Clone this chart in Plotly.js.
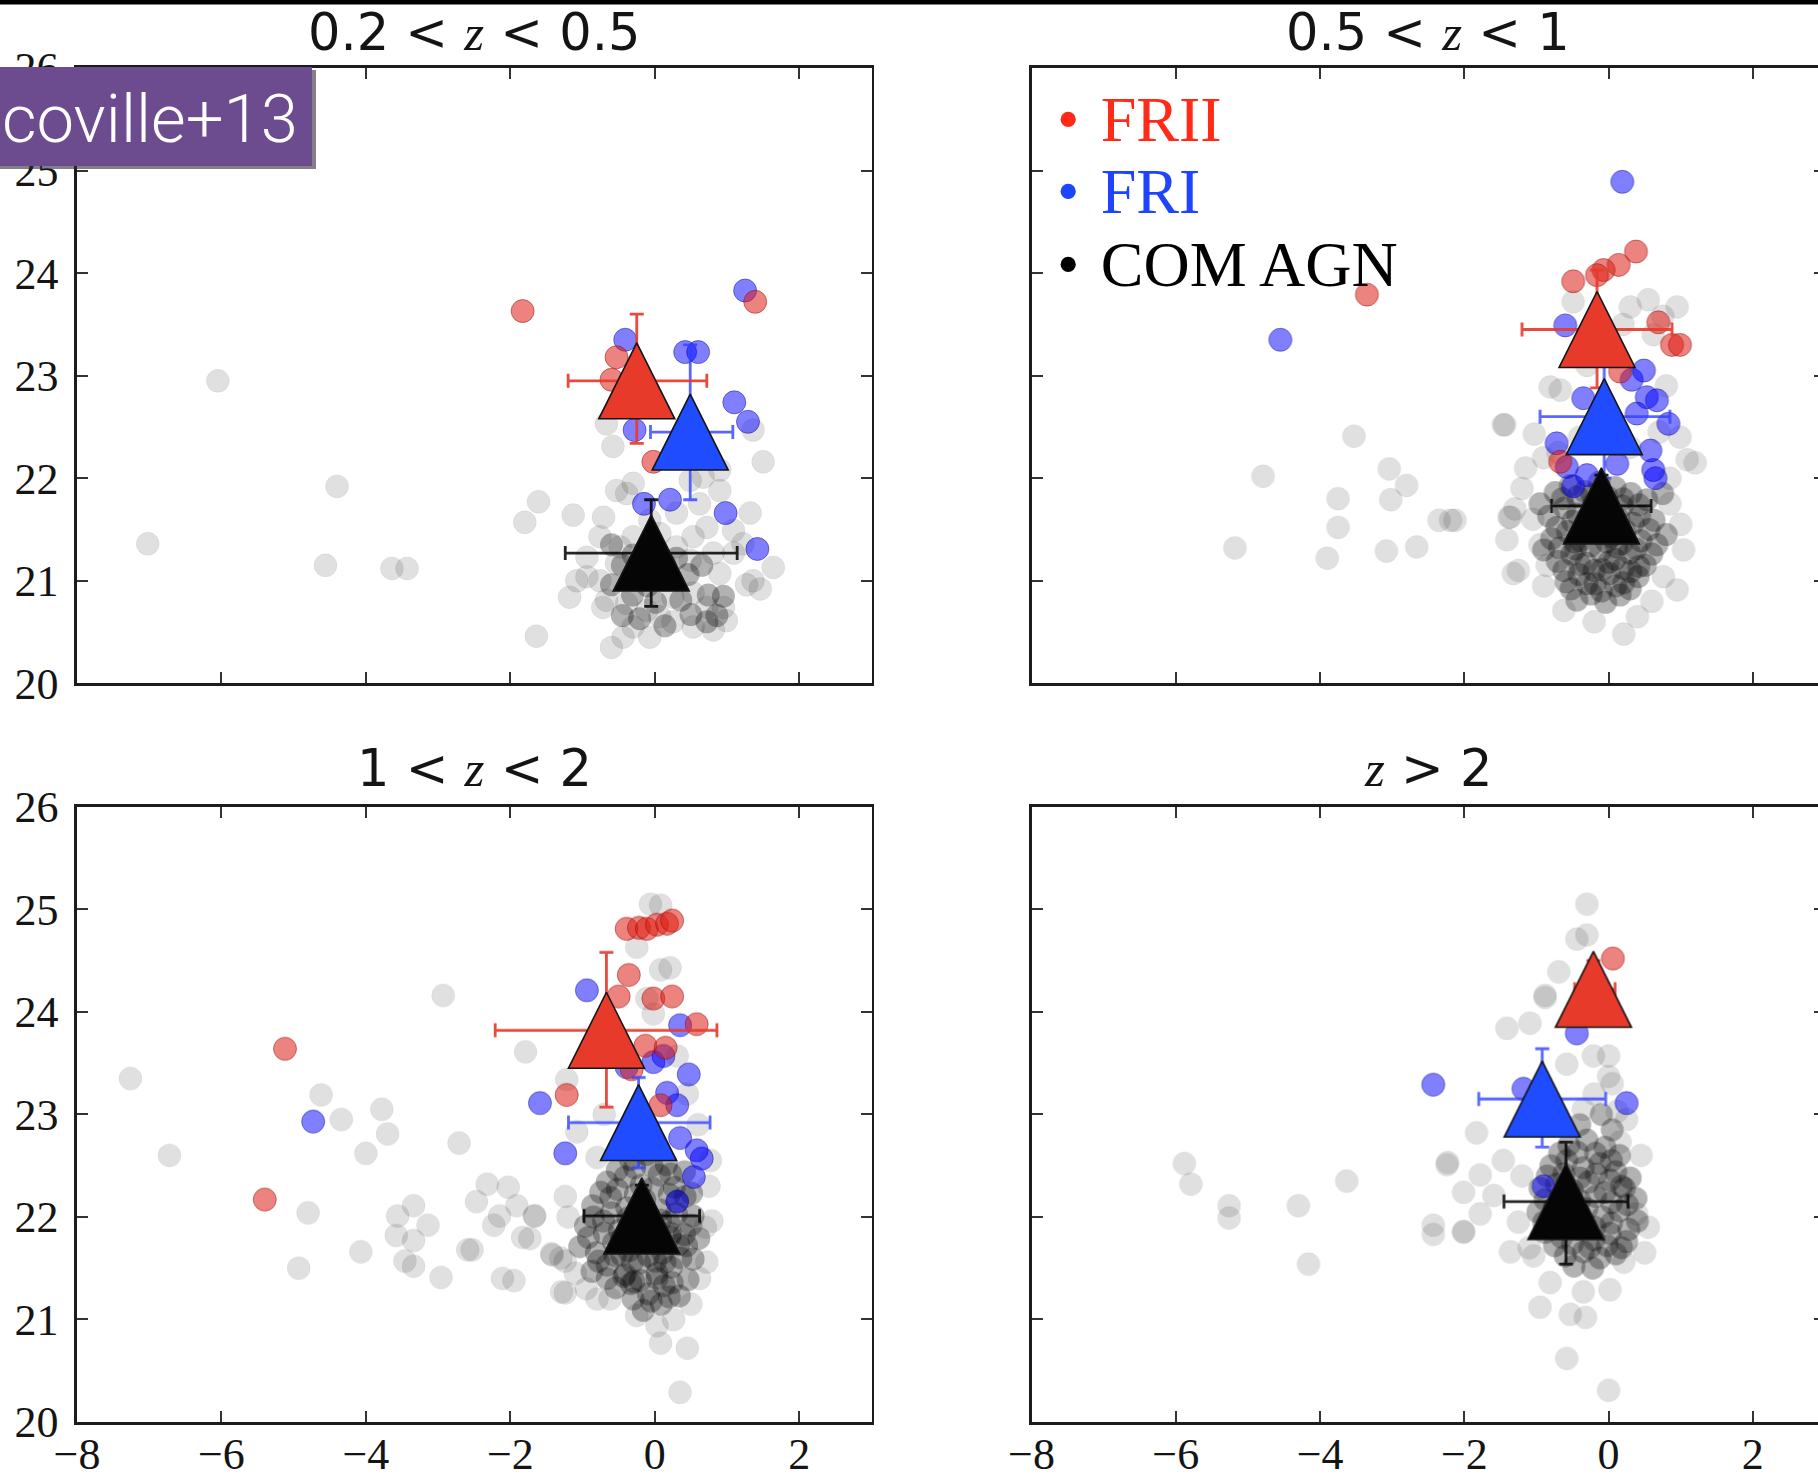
<!DOCTYPE html>
<html><head><meta charset="utf-8">
<script src="https://cdn.plot.ly/plotly-3.0.1.min.js"></script>
<style>html,body{margin:0;padding:0;overflow:hidden;background:#fff;}#chart{width:1830px;height:1475px;}
#chart .scatterlayer{filter:blur(0.7px);}</style>
</head><body><div id="chart"></div>
<script>
// ---------------- data (x = first value, y = second) ----------------
const X_TICKS = [-8,-6,-4,-2,0,2];
const X_TICKTEXT = ['\u22128','\u22126','\u22124','\u22122','0','2'];
const Y_TICKS = [20,21,22,23,24,25,26];
const PANEL_TITLES = ['0.2 &lt; <span style="font-family:Liberation Serif"><i>z</i></span> &lt; 0.5',
                      '0.5 &lt; <span style="font-family:Liberation Serif"><i>z</i></span> &lt; 1',
                      '1 &lt; <span style="font-family:Liberation Serif"><i>z</i></span> &lt; 2',
                      '<span style="font-family:Liberation Serif"><i>z</i></span> &gt; 2'];
const LEGEND_NAMES = ['FRII','FRI','COM AGN'];

// Top-left 0.2<z<0.5
const TL_COM = [[-6.05,22.95],[-7.02,21.36],[-4.40,21.92],[-4.56,21.15],[-3.64,21.12],[-3.43,21.12],[-1.64,20.46],[-1.61,21.77],[-1.80,21.57],
[-1.13,21.64],[-0.71,21.62],[-0.39,21.85],[-1.18,20.84],[-0.60,20.35],[1.50,22.16],[1.36,22.47],[1.64,21.13],[1.46,20.92],[1.27,20.96],[-0.58,22.31],[-0.67,22.53],[0.90,21.88],[1.09,21.49],[0.72,21.52],[-0.94,21.04],[-0.76,21.43],[-0.48,21.33],[-0.30,21.43],[0.07,21.46],[0.30,21.33],[0.53,21.43],[0.49,21.20],[0.81,21.27],[0.90,21.07],[-0.76,21.00],[-0.67,20.81],[-0.39,20.78],[-0.11,20.71],[0.07,20.65],[0.25,20.84],[0.53,20.88],[0.72,20.74],[0.95,20.74],[0.99,20.61],[0.81,20.52],[-0.30,20.55],[-0.07,20.45],[-0.44,20.45],[0.53,20.55],[0.25,20.60],[-0.11,21.20],[0.16,21.07],[-0.53,21.17],[-0.94,21.23],[-0.07,21.59],[0.30,21.66],[0.62,21.75],[0.67,22.01],[0.90,22.08],[0.49,21.98],[-0.30,21.95],[-0.53,21.88],[1.32,21.66],[1.22,21.36],[1.36,21.00],[1.09,21.27],[-0.72,20.74],[-1.08,21.00]];
const TL_CORE = [[-0.45,21.15],[-0.16,21.04],[0.14,21.16],[0.46,21.06],[-0.31,20.86],[0.01,20.79],[0.36,20.81],[0.74,20.86],[0.86,20.66],[-0.21,20.63],[0.14,20.56],[-0.60,20.96],
[-0.60,21.35],[-0.30,21.25],[0.02,21.30],[0.30,21.22],[0.65,21.15],[-0.45,20.66],[0.50,20.67],[0.72,20.60],[-0.10,20.95],[0.95,20.85]];
const TL_RED = [[-1.83,23.63],[1.39,23.72],[-0.53,23.18],[-0.60,22.96],[-0.02,22.16]];
const TL_BLUE = [[1.25,23.83],[-0.41,23.35],[0.42,23.23],[0.60,23.23],[1.10,22.74],[1.29,22.55],[-0.28,22.47],[-0.15,21.75],[0.21,21.79],[0.98,21.66],[1.42,21.31]];

// Top-right 0.5<z<1
const TR_COM = [[-5.18,21.32],[-4.79,22.02],[-3.90,21.22],[-3.75,21.52],[-3.75,21.80],[-3.53,22.41],[-3.08,21.29],[-3.02,21.79],[-3.04,22.09],[-2.80,21.93],[-2.66,21.33],[-2.35,21.59],[-2.19,21.59],[-1.44,22.52],[-1.38,21.62],[-1.03,22.43],
[-0.49,23.72],[0.55,23.74],[0.30,23.67],[0.95,23.67],[0.75,23.58],[-0.81,22.89],[-0.67,22.86],[-1.46,22.52],[0.99,22.40],[1.09,22.18],[-2.13,21.59],[-1.36,21.62],[-1.41,21.40],[-1.32,21.07],[1.04,21.30],[0.95,20.91],[0.21,20.48],[-0.62,20.71],[0.76,21.04],[-1.30,21.70],[0.20,23.50],[0.62,23.40],[-0.30,23.10],[0.80,22.90],[1.20,22.15],
[-0.70,22.25],[0.30,22.30],[0.70,22.45],[-0.40,22.40],[0.10,22.35],[-0.90,22.20],[0.85,22.00],[-1.20,21.90],[-1.25,21.10],[1.00,21.55],[-1.05,21.60],[-0.95,21.35],[0.85,21.75],[0.60,20.80],[-0.90,20.95],[0.40,20.65],[-0.20,20.60],[-1.15,22.10],[-0.85,21.15]];
const TR_CORE = [[-0.74,21.86],[-0.53,21.93],[-0.33,21.87],[-0.13,21.96],[0.09,21.91],[0.31,21.85],[0.53,21.79],
[-0.83,21.63],[-0.61,21.71],[-0.43,21.65],[-0.21,21.75],[0.01,21.67],[0.19,21.73],[0.43,21.63],[0.63,21.59],
[-0.79,21.41],[-0.57,21.48],[-0.39,21.39],[-0.17,21.51],[0.03,21.43],[0.23,21.49],[0.45,21.39],[0.67,21.35],
[-0.71,21.19],[-0.51,21.26],[-0.31,21.17],[-0.11,21.29],[0.09,21.21],[0.29,21.27],[0.51,21.15],
[-0.59,20.99],[-0.41,21.06],[-0.19,20.97],[0.01,21.07],[0.21,20.98],[0.41,21.04],
[-0.44,20.81],[-0.24,20.87],[-0.04,20.79],[0.16,20.86],
[-0.29,21.57],[0.11,21.33],[-0.46,21.31],[0.31,21.09],[-0.09,21.11],
[-0.64,21.80],[-0.43,21.82],[-0.23,21.84],[-0.02,21.82],[0.20,21.80],[0.42,21.74],
[-0.72,21.52],[-0.50,21.58],[-0.28,21.62],[-0.06,21.56],[0.14,21.60],[0.34,21.56],[0.56,21.50],
[-0.68,21.32],[-0.47,21.38],[-0.25,21.34],[-0.03,21.38],[0.18,21.36],[0.38,21.31],[0.60,21.26],
[-0.62,21.10],[-0.40,21.16],[-0.20,21.10],[0.00,21.18],[0.20,21.12],[0.42,21.14],
[-0.52,20.92],[-0.30,20.97],[-0.10,20.90],[0.10,20.95],[0.30,20.92],
[-0.90,21.30],[0.80,21.45],[-0.95,21.75],[0.75,21.85]];
const TR_RED = [[-3.35,23.79],[0.38,24.21],[0.14,24.08],[-0.07,24.03],[-0.16,23.98],[-0.49,23.92],[0.69,23.52],[0.88,23.30],[0.99,23.30],[0.16,23.04],[-0.67,22.16]];
const TR_BLUE = [[-4.55,23.35],[0.19,24.89],[-0.60,23.49],[0.49,23.05],[0.32,22.96],[0.53,22.79],[0.67,22.76],[-0.35,22.78],[0.39,22.63],[0.83,22.53],[-0.72,22.34],[0.58,22.27],[-0.58,22.11],[-0.30,22.03],[0.12,22.14],[0.62,22.08],[0.65,22.00],[-0.49,21.92]];

// Bottom-left 1<z<2
const BL_COM = [[-7.26,23.35],[-6.72,22.60],[-4.62,23.19],[-4.34,22.95],[-3.78,23.05],[-3.70,22.81],[-4.00,22.62],[-4.80,22.04],[-4.93,21.50],[-4.07,21.66],[-3.56,22.01],[-3.34,22.11],[-3.58,21.82],[-3.34,21.77],[-3.14,21.92],[-3.46,21.57],[-3.34,21.52],[-2.96,21.41],[-2.93,24.16],[-2.71,22.72],[-2.59,21.68],[-2.47,22.15],[-2.32,22.32],[-2.15,22.01],[-2.03,22.29],[-1.91,22.11],[-2.23,21.92],[-2.11,21.40],[-1.95,21.38],[-1.79,23.61],[-1.67,22.01],[-1.83,21.80],[-2.53,21.68],[-1.43,21.64],[-1.24,22.20],[-1.24,21.26],[-1.24,21.57],
[-0.06,25.05],[0.08,25.04],[-0.25,24.63],[0.08,24.41],[0.21,24.43],[-0.11,24.13],[-0.02,23.98],[-1.22,23.34],[0.31,23.57],[-1.08,22.83],[-0.80,22.58],[-1.66,22.01],[-1.73,21.79],[-1.42,21.63],[-1.29,21.27],[-0.62,21.20],[-0.25,21.04],[0.03,20.94],[0.26,21.00],[0.08,20.77],[0.45,20.72],[0.35,20.29],[0.77,22.55],[0.79,21.96],[0.72,21.56],
[-1.30,21.60],[-1.10,21.45],[-0.95,21.30],[0.70,21.90],[0.75,22.30],[0.62,21.40],[-0.80,21.20],[0.50,21.15],[-1.20,22.00],[0.45,23.20],[-0.70,23.00],[0.60,22.90]];
const BL_CORE = [[-0.34,22.56],[-0.11,22.61],[0.16,22.51],[0.41,22.44],
[-0.66,22.34],[-0.41,22.39],[-0.19,22.31],[0.06,22.41],[0.27,22.29],[0.51,22.23],
[-0.86,22.11],[-0.61,22.19],[-0.39,22.09],[-0.14,22.17],[0.07,22.07],[0.31,22.15],[0.53,22.01],
[-0.96,21.91],[-0.71,21.96],[-0.49,21.87],[-0.28,21.97],[-0.04,21.85],[0.19,21.95],[0.41,21.83],[0.61,21.79],
[-1.04,21.71],[-0.81,21.65],[-0.57,21.75],[-0.36,21.67],[-0.11,21.77],[0.11,21.65],[0.33,21.73],[0.53,21.59],
[-0.87,21.47],[-0.66,21.53],[-0.41,21.44],[-0.21,21.55],[0.03,21.45],[0.23,21.51],[0.46,21.39],
[-0.54,21.31],[-0.33,21.35],[-0.09,21.25],[0.13,21.33],[0.34,21.23],
[-0.16,21.09],[0.09,21.15],
[-0.24,22.01],[0.01,21.57],[-0.46,21.63],[0.21,21.81],[-0.29,21.37],
[-0.52,22.46],[-0.28,22.48],[-0.04,22.50],[0.22,22.42],
[-0.75,22.24],[-0.52,22.27],[-0.27,22.22],[-0.03,22.28],[0.20,22.22],[0.42,22.20],
[-0.85,22.00],[-0.60,22.04],[-0.37,21.99],[-0.15,22.05],[0.08,21.97],[0.30,22.03],[0.50,21.92],
[-0.92,21.80],[-0.70,21.84],[-0.46,21.78],[-0.23,21.86],[0.00,21.76],[0.22,21.84],[0.44,21.72],
[-0.78,21.57],[-0.55,21.62],[-0.31,21.56],[-0.09,21.62],[0.14,21.56],[0.36,21.60],
[-0.66,21.40],[-0.43,21.42],[-0.20,21.38],[0.03,21.40],[0.24,21.36],
[-0.30,21.20],[-0.05,21.18],[0.20,21.22]];
const BL_RED = [[-5.12,23.64],[-5.40,22.17],[-0.39,24.81],[-0.22,24.82],[-0.11,24.81],[0.03,24.85],[0.17,24.86],[0.24,24.89],[-0.36,24.36],[-0.50,24.15],[-0.02,24.13],[0.24,24.15],[0.58,23.88],[-0.13,23.67],[0.15,23.65],[-1.22,23.19],[0.08,23.09],[-0.32,23.44]];
const BL_BLUE = [[-4.73,22.93],[-0.94,24.21],[0.35,23.87],[-1.59,23.11],[0.47,23.39],[-0.02,23.51],[0.12,23.57],[-0.39,23.46],[0.17,23.21],[0.31,23.09],[-1.24,22.62],[0.35,22.77],[0.58,22.65],[0.65,22.57],[0.54,22.39],[0.31,22.15]];

// Bottom-right z>2
const BR_COM = [[-5.88,22.52],[-5.79,22.32],[-5.26,22.11],[-5.26,21.99],[-4.30,22.11],[-4.16,21.54],[-3.63,22.35],[-2.43,21.92],[-2.43,21.83],[-2.23,22.53],[-2.01,21.85],
[-0.30,25.05],[-0.44,24.71],[-0.30,24.75],[-0.69,24.39],[-0.88,24.14],[-0.88,24.16],[-1.09,23.89],[-1.41,23.84],[-0.58,23.49],[-0.21,23.57],[0.00,23.57],[-1.83,22.82],[-2.24,22.51],[-1.78,22.41],[-1.46,22.55],[-2.01,22.24],[-1.59,22.21],[-1.78,22.03],[-2.01,21.86],[-1.36,21.66],[-1.04,21.62],[-0.81,21.36],[-0.95,21.12],[-0.53,21.05],[-0.32,21.02],[-0.35,21.27],[0.02,21.29],[0.21,21.56],[0.39,22.03],[0.16,22.73],[0.00,23.37],[-0.58,20.62],[0.00,20.31],[0.12,23.03],
[-1.20,22.40],[-1.25,21.95],[-1.10,21.70],[0.45,22.60],[0.55,21.90],[0.50,21.65],[-0.20,23.20],[0.05,23.30],[-0.35,23.05],[0.25,22.95]];
const BR_CORE = [[-0.55,22.70],[-0.30,22.75],[-0.05,22.68],[0.15,22.60],
[-0.80,22.50],[-0.58,22.55],[-0.35,22.48],[-0.12,22.52],[0.10,22.44],[0.30,22.38],
[-0.95,22.28],[-0.72,22.32],[-0.50,22.26],[-0.28,22.34],[-0.05,22.24],[0.18,22.30],[0.38,22.18],
[-0.98,22.05],[-0.75,22.10],[-0.52,22.02],[-0.30,22.08],[-0.08,22.00],[0.15,22.06],[0.40,21.96],
[-0.88,21.85],[-0.65,21.80],[-0.42,21.88],[-0.20,21.78],[0.02,21.84],[0.25,21.76],
[-0.60,21.62],[-0.35,21.66],[-0.12,21.60],[0.10,21.64],
[-0.40,22.90],[-0.10,23.00],[0.05,22.85],
[-0.68,22.62],[-0.43,22.63],[-0.18,22.62],[0.04,22.55],
[-0.85,22.40],[-0.62,22.42],[-0.40,22.38],[-0.17,22.42],[0.02,22.36],[0.22,22.28],
[-0.88,22.17],[-0.64,22.20],[-0.40,22.16],[-0.18,22.20],[0.04,22.14],[0.26,22.12],
[-0.90,21.95],[-0.64,21.94],[-0.41,21.98],[-0.19,21.90],[0.04,21.94],[0.28,21.88],
[-0.75,21.72],[-0.50,21.74],[-0.26,21.70],[-0.02,21.72],[0.18,21.70],
[-0.48,21.52],[-0.22,21.50]];
const BR_RED = [[0.06,24.52]];
const BR_BLUE = [[-2.43,23.29],[0.25,23.11],[-0.44,23.79],[-1.18,23.25],[-0.90,22.30]];

// Mean values with error bars, order: COM AGN, FRI, FRII
const TRI_CLASSES = ['COM AGN','FRI','FRII'];
const TL_TRI_X = [-0.05, 0.49, -0.25],  TL_TRI_Y = [21.27, 22.45, 22.95];
const TL_XERR_P = [1.19, 0.59, 0.97],   TL_XERR_M = [1.19, 0.55, 0.95];
const TL_YERR_P = [0.52, 0.85, 0.65],   TL_YERR_M = [0.52, 0.66, 0.61];
const TR_TRI_X = [-0.10, -0.06, -0.16], TR_TRI_Y = [21.73, 22.60, 23.45];
const TR_XERR_P = [0.69, 0.91, 1.04],   TR_XERR_M = [0.69, 0.89, 1.04];
const TR_YERR_P = [0.30, 0.65, 0.58],   TR_YERR_M = [0.30, 0.60, 0.57];
const BL_TRI_X = [-0.18, -0.225, -0.67], BL_TRI_Y = [22.01, 22.92, 23.82];
const BL_XERR_P = [0.80, 0.99, 1.53],   BL_XERR_M = [0.80, 0.97, 1.54];
const BL_YERR_P = [0.30, 0.44, 0.76],   BL_YERR_M = [0.30, 0.44, 0.75];
const BR_TRI_X = [-0.59, -0.92, -0.21], BR_TRI_Y = [22.15, 23.15, 24.22];
const BR_XERR_P = [0.86, 0.88, 0.30],   BR_XERR_M = [0.86, 0.88, 0.26];
const BR_YERR_P = [0.58, 0.49, 0.28],   BR_YERR_M = [0.61, 0.47, 0.28];

// ---------------- geometry / style ----------------
const W = 1830, H = 1475, ML = 77, MR = 5, MT = 68, MB = 53;
const PW = W - ML - MR, PH = H - MT - MB;
const XD_L = [0, 794.5 / PW], XD_R = [(1031.5 - ML) / PW, 1];
const YD_T = [(H - MB - 683.3) / PH, 1], YD_B = [0, (H - MB - 806.7) / PH];
const TRI_SIZE = 76;
const subH = (YD_B[1] - YD_B[0]) * PH;
const SHIFT = (TRI_SIZE / 2) / (subH / 6);

const TRI_FILL = ['#050505', '#1f4cff', '#e83a2b'];
const ERR_COL = ['rgba(0,0,0,0.85)', 'rgba(45,65,255,0.8)', 'rgba(232,58,43,0.92)'];

const panels = [
  {xa:'x',  ya:'y',  yt:'y5', com:TL_COM, core:TL_CORE, red:TL_RED, blue:TL_BLUE, tx:TL_TRI_X, ty:TL_TRI_Y, xp:TL_XERR_P, xm:TL_XERR_M, yp:TL_YERR_P, ym:TL_YERR_M},
  {xa:'x2', ya:'y2', yt:'y6', com:TR_COM, core:TR_CORE, red:TR_RED, blue:TR_BLUE, tx:TR_TRI_X, ty:TR_TRI_Y, xp:TR_XERR_P, xm:TR_XERR_M, yp:TR_YERR_P, ym:TR_YERR_M},
  {xa:'x3', ya:'y3', yt:'y7', com:BL_COM, core:BL_CORE, red:BL_RED, blue:BL_BLUE, tx:BL_TRI_X, ty:BL_TRI_Y, xp:BL_XERR_P, xm:BL_XERR_M, yp:BL_YERR_P, ym:BL_YERR_M},
  {xa:'x4', ya:'y4', yt:'y8', com:BR_COM, core:BR_CORE, red:BR_RED, blue:BR_BLUE, tx:BR_TRI_X, ty:BR_TRI_Y, xp:BR_XERR_P, xm:BR_XERR_M, yp:BR_YERR_P, ym:BR_YERR_M}
];

const traces = [];
function pts(list, xa, ya, fill, line, lw, name) {
  traces.push({type:'scatter', mode:'markers', name, showlegend:false, hoverinfo:'skip',
    x:list.map(p => p[0]), y:list.map(p => p[1]), xaxis:xa, yaxis:ya,
    marker:{symbol:'circle', size:23, color:fill, line:{color:line, width:lw}}});
}
panels.forEach(p => {
  pts(p.com,  p.xa, p.ya, 'rgba(0,0,0,0.12)', 'rgba(0,0,0,0.05)', 1, 'COM AGN');
  pts(p.core, p.xa, p.ya, 'rgba(0,0,0,0.3)', 'rgba(0,0,0,0)', 0, 'COM AGN');
  pts(p.blue, p.xa, p.ya, 'rgba(0,0,255,0.5)', 'rgba(0,0,140,0.45)', 1, 'FRI');
  pts(p.red,  p.xa, p.ya, 'rgba(220,30,20,0.55)', 'rgba(140,0,0,0.45)', 1, 'FRII');
  for (let i = 0; i < 3; i++) {
    traces.push({type:'scatter', mode:'markers', showlegend:false, hoverinfo:'skip', name:TRI_CLASSES[i],
      x:[p.tx[i]], y:[p.ty[i]], xaxis:p.xa, yaxis:p.ya,
      marker:{size:2, color:'rgba(0,0,0,0)'},
      error_x:{type:'data', symmetric:false, array:[p.xp[i]], arrayminus:[p.xm[i]], color:ERR_COL[i], thickness:2.8, width:7},
      error_y:{type:'data', symmetric:false, array:[p.yp[i]], arrayminus:[p.ym[i]], color:ERR_COL[i], thickness:2.8, width:7}});
  }
  for (let i = 0; i < 3; i++) {
    traces.push({type:'scatter', mode:'markers', showlegend:false, hoverinfo:'skip', name:TRI_CLASSES[i],
      x:[p.tx[i]], y:[p.ty[i]], xaxis:p.xa, yaxis:p.yt,
      marker:{symbol:'arrow-up', size:TRI_SIZE, color:TRI_FILL[i], line:{color:'#151515', width:1.6}}});
  }
});

const axCommon = {showline:true, linecolor:'#1c1c1c', linewidth:2.6, mirror:'ticks', ticks:'inside',
  ticklen:11, tickwidth:2, tickcolor:'#333', showgrid:false, zeroline:false, fixedrange:true,
  tickfont:{family:'Liberation Serif', size:44, color:'#141414'}};
function xax(dom, anchor, labels) {
  return Object.assign({}, axCommon, {domain:dom, anchor, range:[-8,3], tickmode:'array',
    tickvals:X_TICKS, ticktext:X_TICKTEXT, showticklabels:labels, ticklabelstandoff:-8});
}
function yax(dom, anchor, labels) {
  return Object.assign({}, axCommon, {domain:dom, anchor, range:[20,26], tickmode:'array',
    tickvals:Y_TICKS, ticktext:Y_TICKS.map(String), showticklabels:labels, ticklabelstandoff:7});
}
function yover(base) {
  return {overlaying:base, range:[20 - SHIFT, 26 - SHIFT], visible:false, fixedrange:true, showgrid:false, zeroline:false};
}
const px2x = px => (px - ML) / PW;
const px2y = py => (H - MB - py) / PH;

const titleFont = {family:'DejaVu Sans', size:51, color:'#141414'};
const annotations = [
  {xref:'x domain', yref:'y domain', x:0.5, y:1, yshift:36, text:PANEL_TITLES[0]},
  {xref:'x2 domain', yref:'y2 domain', x:0.5, y:1, yshift:36, text:PANEL_TITLES[1]},
  {xref:'x3 domain', yref:'y3 domain', x:0.5, y:1, yshift:38, text:PANEL_TITLES[2]},
  {xref:'x4 domain', yref:'y4 domain', x:0.5, y:1, yshift:38, text:PANEL_TITLES[3]}
].map(a => Object.assign({showarrow:false, xanchor:'center', yanchor:'middle', font:titleFont}, a));

const LEG_COL = ['#ff2a18', '#1f44ff', '#000000'];
const LEG_Y = [0.9165, 0.800, 0.681];
LEGEND_NAMES.forEach((n, i) => annotations.push({xref:'x2 domain', yref:'y2 domain', x:0.03, y:LEG_Y[i],
  xanchor:'left', yanchor:'middle', showarrow:false, text:'\u2022\u2004' + n,
  font:{family:'Liberation Serif', size:64, color:LEG_COL[i]}}));

annotations.push({xref:'paper', yref:'paper', x:px2x(0), y:px2y(119), xanchor:'left', yanchor:'middle',
  showarrow:false, text:'coville+13', font:{family:'Roboto', size:67, color:'#ffffff', weight:300}});

const shapes = [
  {type:'rect', xref:'paper', yref:'paper', x0:px2x(-5), x1:px2x(W + 5), y0:px2y(-5), y1:px2y(4.5), fillcolor:'#000', line:{width:0}, layer:'above'},
  {type:'rect', xref:'paper', yref:'paper', x0:px2x(-5), x1:px2x(316), y0:px2y(70), y1:px2y(169), fillcolor:'rgba(50,40,55,0.6)', line:{width:0}, layer:'above'},
  {type:'rect', xref:'paper', yref:'paper', x0:px2x(-5), x1:px2x(312), y0:px2y(67), y1:px2y(166), fillcolor:'#6d4b8f', line:{width:0}, layer:'above'}
];

const layout = {
  width:W, height:H, margin:{l:ML, r:MR, t:MT, b:MB, pad:0}, showlegend:false,
  paper_bgcolor:'#ffffff', plot_bgcolor:'#ffffff',
  xaxis:xax(XD_L,'y',false), yaxis:yax(YD_T,'x',true),
  xaxis2:xax(XD_R,'y2',false), yaxis2:yax(YD_T,'x2',false),
  xaxis3:xax(XD_L,'y3',true), yaxis3:yax(YD_B,'x3',true),
  xaxis4:xax(XD_R,'y4',true), yaxis4:yax(YD_B,'x4',false),
  yaxis5:yover('y'), yaxis6:yover('y2'), yaxis7:yover('y3'), yaxis8:yover('y4'),
  annotations, shapes
};
Plotly.newPlot('chart', traces, layout, {staticPlot:true, displayModeBar:false});
</script></body></html>
